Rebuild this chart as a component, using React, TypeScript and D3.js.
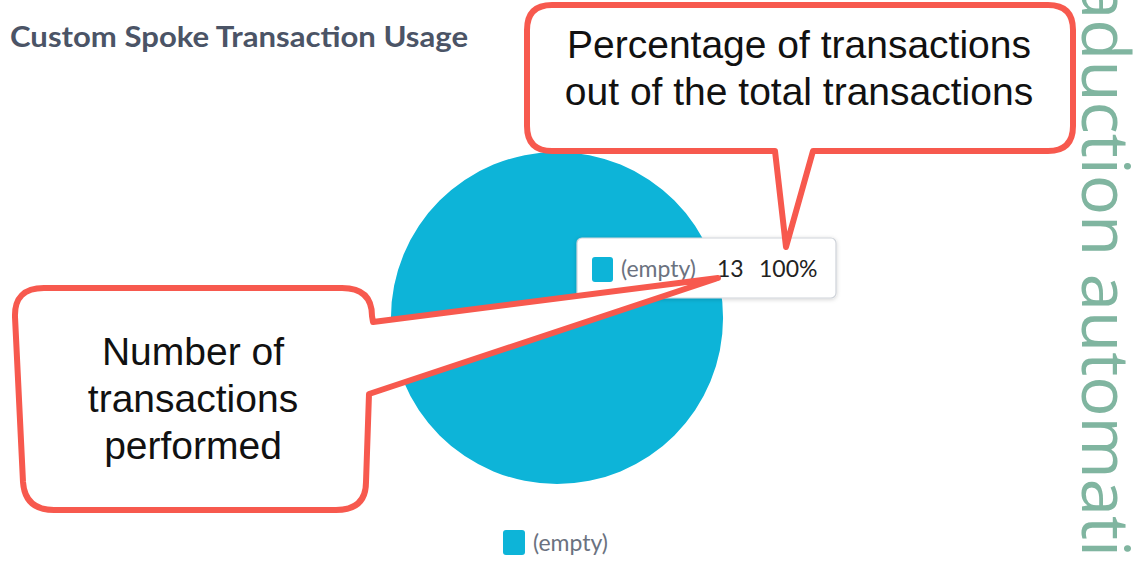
import React from "react";
import * as d3 from "d3";

const W = 1141;
const H = 566;

const categories = ["(empty)"];
const values = [13];
const colors = ["#0db4d8"];
const chartTitle = "Custom Spoke Transaction Usage";
const calloutTop = ["Percentage of transactions", "out of the total transactions"];
const calloutLeft = ["Number of", "transactions", "performed"];
const sideText = "aduction automati";

const RED = "#f7594e";

export default function App() {
  const total = d3.sum(values);
  const pie = d3.pie<number>().sort(null).value((d) => d)(values);
  const cx = 557, cy = 318, r = 166;
  const arc = d3.arc<d3.PieArcDatum<number>>().innerRadius(0).outerRadius(r);
  const pct = d3.format(".0%");

  const topPath =
    "M 552,5 L 1048,5 Q 1073,5 1073,30 L 1073,126 Q 1073,151 1048,151 L 813,151 L 786,247 L 775,151 L 552,151 Q 527,151 527,126 L 527,30 Q 527,5 552,5 Z";
  const leftPath =
    "M 44,288 L 342,288 Q 372,288 372,316 L 373,322 L 718,278 L 369,394 L 366,482 Q 366,510 336,510 L 54,510 Q 25,510 23,482 L 15,317 Q 14,288 44,288 Z";

  return (
    <svg width={W} height={H} style={{ position: "absolute", left: 0, top: 0, background: "#fff" }}>
      <defs>
        <filter id="sh" x="-10%" y="-20%" width="120%" height="160%">
          <feDropShadow dx="0" dy="1" stdDeviation="2" floodColor="#000" floodOpacity="0.18" />
        </filter>
      </defs>
      <rect width={W} height={H} fill="#fff" />
      <text x={10} y={47} fontFamily="Lato" fontWeight={700} fontSize={29} fill="#4b5466" textLength={458} lengthAdjust="spacingAndGlyphs">
        {chartTitle}
      </text>

      <g transform={`translate(${cx},${cy})`}>
        {pie.map((p, i) => (
          <path key={i} d={arc(p) || ""} fill={colors[i]} />
        ))}
      </g>

      {/* tooltip */}
      <g>
        <rect x={577} y={238} width={259} height={60} rx={5} fill="#fff" stroke="#cfd3d9" strokeWidth={1.2} filter="url(#sh)" />
        <rect x={592} y={257} width={21} height={25} rx={3} fill={colors[0]} />
        <text x={621} y={277} fontFamily="Lato" fontSize={23} fill="#6b7280">{categories[0]}</text>
        <text x={717} y={277} fontFamily="Lato" fontSize={23} fill="#222">{values[0]}</text>
        <text x={759} y={277} fontFamily="Lato" fontSize={23} fill="#222">{pct(values[0] / total)}</text>
      </g>

      {/* legend */}
      <rect x={503} y={530} width={22} height={25} rx={3} fill={colors[0]} />
      <text x={533} y={551} fontFamily="Lato" fontSize={23} fill="#6b7280">{categories[0]}</text>

      {/* callouts */}
      <path d={topPath} fill="#fff" stroke={RED} strokeWidth={6} strokeLinejoin="round" />
      {calloutTop.map((t, i) => (
        <text key={i} x={799} y={58 + i * 47} textAnchor="middle" fontFamily="Liberation Sans, Arial" fontSize={39} fill="#111">
          {t}
        </text>
      ))}
      <path d={leftPath} fill="#fff" stroke={RED} strokeWidth={6} strokeLinejoin="round" />
      {calloutLeft.map((t, i) => (
        <text key={i} x={193} y={365 + i * 47} textAnchor="middle" fontFamily="Liberation Sans, Arial" fontSize={39} fill="#111">
          {t}
        </text>
      ))}

      {/* side text */}
      <text
        transform="translate(1082,-18) rotate(90)"
        fontFamily="Open Sans, Lato"
        fontWeight={400}
        fontSize={66}
        fill="#80b5a0"
        textLength={575}
        lengthAdjust="spacingAndGlyphs"
      >
        {sideText}
      </text>
    </svg>
  );
}
